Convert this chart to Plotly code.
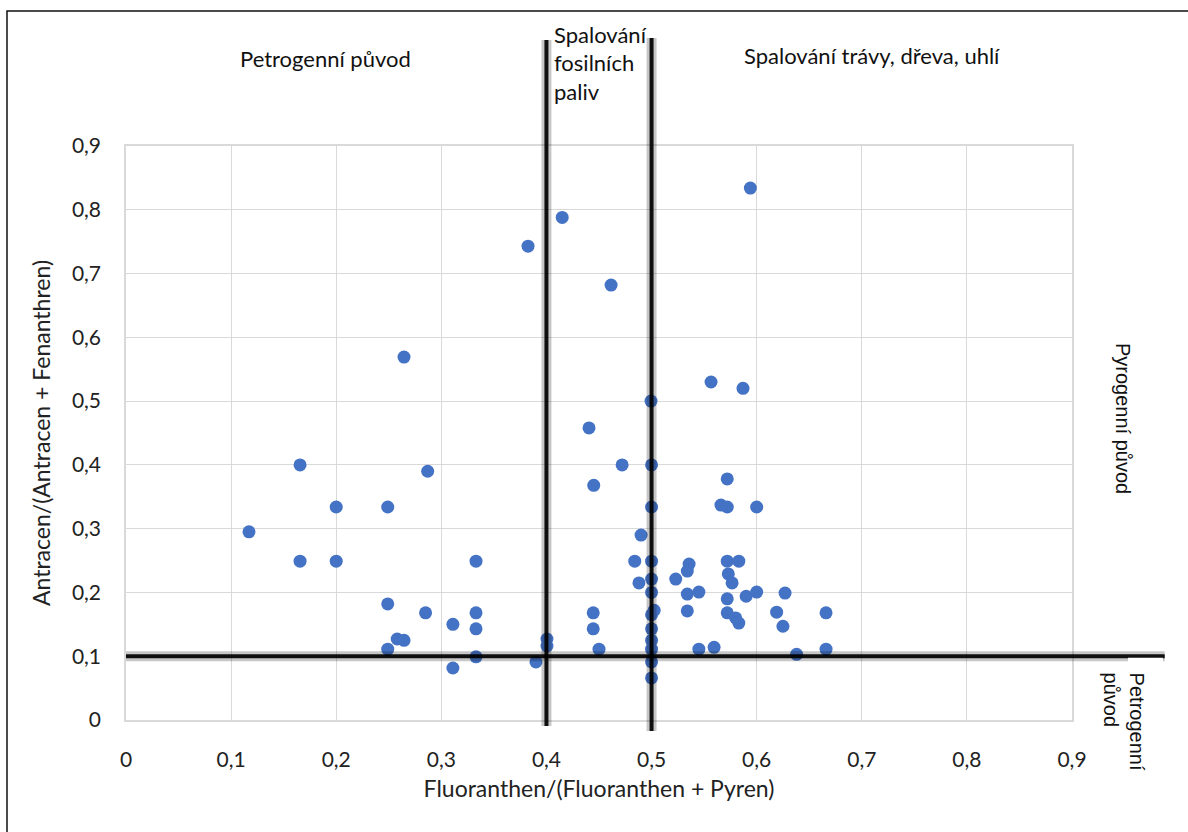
import plotly.graph_objects as go

# Fluoranthen/(Fluoranthen + Pyren)
x_vals = [0.117, 0.1656, 0.1656, 0.2, 0.2, 0.249, 0.249, 0.249, 0.2645, 0.287,
          0.258, 0.2645, 0.285, 0.311, 0.311, 0.333, 0.333, 0.333, 0.333, 0.3825,
          0.415, 0.4615, 0.4405, 0.445, 0.472, 0.4995, 0.5, 0.5, 0.49, 0.484,
          0.5, 0.488, 0.5, 0.5, 0.5025, 0.5, 0.5, 0.5, 0.5, 0.5,
          0.5, 0.4445, 0.4445, 0.450, 0.4005, 0.4005, 0.390, 0.5566, 0.587, 0.594,
          0.572, 0.566, 0.572, 0.600, 0.5357, 0.534, 0.523, 0.572, 0.583, 0.573,
          0.5766, 0.534, 0.545, 0.572, 0.590, 0.600, 0.627, 0.534, 0.572, 0.580,
          0.583, 0.619, 0.625, 0.666, 0.545, 0.5595, 0.638, 0.666]
# Antracen/(Antracen + Fenanthren)
y_vals = [0.295, 0.400, 0.249, 0.334, 0.249, 0.334, 0.182, 0.111, 0.569, 0.390,
          0.127, 0.125, 0.168, 0.150, 0.0815, 0.249, 0.168, 0.143, 0.099, 0.743,
          0.788, 0.682, 0.458, 0.368, 0.400, 0.500, 0.400, 0.334, 0.290, 0.249,
          0.249, 0.215, 0.221, 0.200, 0.172, 0.165, 0.143, 0.125, 0.111, 0.091,
          0.066, 0.168, 0.143, 0.111, 0.127, 0.116, 0.091, 0.530, 0.520, 0.834,
          0.378, 0.337, 0.334, 0.334, 0.2445, 0.2335, 0.221, 0.249, 0.249, 0.229,
          0.215, 0.1975, 0.2006, 0.190, 0.194, 0.2006, 0.199, 0.171, 0.168, 0.160,
          0.152, 0.169, 0.147, 0.168, 0.111, 0.114, 0.103, 0.111]

tick_vals = [0, 0.1, 0.2, 0.3, 0.4, 0.5, 0.6, 0.7, 0.8, 0.9]
tick_text = ["0", "0,1", "0,2", "0,3", "0,4", "0,5", "0,6", "0,7", "0,8", "0,9"]

x_limits = [0.4, 0.5]
y_limit = 0.1

FONT = "Lato"
ARIAL = "Liberation Sans"
LBL = 22

fig = go.Figure()
fig.add_trace(go.Scatter(
    x=x_vals, y=y_vals, mode="markers",
    marker=dict(color="#4472C4", size=13, line=dict(width=0)),
    showlegend=False, hoverinfo="x+y"))

shapes = []
# chart border
shapes.append(dict(type="rect", xref="paper", yref="paper",
                   x0=-0.1258, x1=1.3, y0=-0.35, y1=1.2352,
                   line=dict(color="#111", width=1.5), layer="below"))
# limit lines: halo + core
for xv, y0, y1 in [(x_limits[0], -0.0105, 1.1847), (x_limits[1], -0.019, 1.188)]:
    shapes.append(dict(type="line", xref="x", yref="paper", x0=xv, x1=xv, y0=y0, y1=y1,
                       line=dict(color="rgba(0,0,0,0.22)", width=10)))
    shapes.append(dict(type="line", xref="x", yref="paper", x0=xv, x1=xv, y0=y0, y1=y1,
                       line=dict(color="rgba(0,0,0,0.92)", width=4)))
shapes.append(dict(type="line", xref="paper", yref="y", x0=0, x1=1.098, y0=y_limit, y1=y_limit,
                   line=dict(color="rgba(0,0,0,0.22)", width=10)))
shapes.append(dict(type="line", xref="paper", yref="y", x0=0, x1=1.098, y0=y_limit, y1=y_limit,
                   line=dict(color="rgba(0,0,0,0.92)", width=4)))
# white text box edge overlapping the line
shapes.append(dict(type="rect", xref="paper", yref="paper", x0=1.0592, x1=1.096,
                   y0=0.1005, y1=0.1085, fillcolor="white", line=dict(width=0)))

annotations = [
    dict(text="Petrogenní původ", x=0.2114, y=1.153, xref="paper", yref="paper",
         showarrow=False, xanchor="center", yanchor="middle",
         font=dict(family=FONT, size=LBL, color="#111")),
    dict(text="Spalování", x=0.4503, y=(720 - 35) / 574, xref="paper", yref="paper",
         showarrow=False, xanchor="left", yanchor="middle",
         font=dict(family=FONT, size=LBL, color="#111")),
    dict(text="fosilních", x=0.4503, y=(720 - 63) / 574, xref="paper", yref="paper",
         showarrow=False, xanchor="left", yanchor="middle",
         font=dict(family=FONT, size=LBL, color="#111")),
    dict(text="paliv", x=0.4503, y=(720 - 91) / 574, xref="paper", yref="paper",
         showarrow=False, xanchor="left", yanchor="middle",
         font=dict(family=FONT, size=LBL, color="#111")),
    dict(text="Spalování trávy, dřeva, uhlí", x=0.7886, y=1.1585, xref="paper", yref="paper",
         showarrow=False, xanchor="center", yanchor="middle",
         font=dict(family=FONT, size=LBL, color="#111")),
    dict(text="Pyrogenní původ", x=1.054, y=0.526, xref="paper", yref="paper",
         showarrow=False, xanchor="center", yanchor="middle", textangle=90,
         font=dict(family=ARIAL, size=20, color="#111")),
    dict(text="Petrogenní<br>původ", x=1.055, y=0.086, xref="paper", yref="paper",
         showarrow=False, xanchor="center", yanchor="top", textangle=90, align="left",
         font=dict(family=ARIAL, size=20, color="#111")),
]

fig.update_layout(
    width=1188, height=832,
    margin=dict(l=126, r=116, t=146, b=112, autoexpand=False),
    paper_bgcolor="white", plot_bgcolor="white",
    separators=", ",
    shapes=shapes, annotations=annotations,
    xaxis=dict(range=[0, 0.9], tickvals=tick_vals, ticktext=tick_text,
               showgrid=True, gridcolor="#d9d9d9", gridwidth=1,
               showline=True, mirror=True, linecolor="#d9d9d9", linewidth=1.5,
               zeroline=False, ticks="", ticklabelstandoff=20,
               tickfont=dict(family=FONT, size=21, color="#222"),
               title=dict(text="Fluoranthen/(Fluoranthen + Pyren)", standoff=11,
                          font=dict(family=FONT, size=23, color="#222"))),
    yaxis=dict(range=[0, 0.9], tickvals=tick_vals, ticktext=tick_text,
               showgrid=True, gridcolor="#d9d9d9", gridwidth=1,
               showline=True, mirror=True, linecolor="#d9d9d9", linewidth=1.5,
               zeroline=False, ticks="", ticklabelstandoff=19,
               tickfont=dict(family=FONT, size=21, color="#222"),
               title=dict(text="Antracen/(Antracen + Fenanthren)", standoff=15,
                          font=dict(family=FONT, size=23, color="#222"))),
)

fig.write_html("out.html")
